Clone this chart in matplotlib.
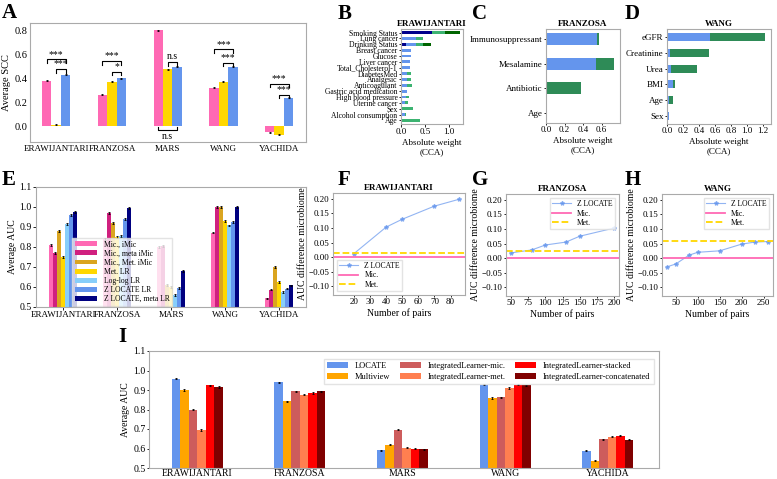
import numpy as np
import matplotlib.pyplot as plt

plt.rcParams['font.family'] = ['Liberation Serif', 'DejaVu Serif']
plt.rcParams['axes.edgecolor'] = '#aaaaaa'
plt.rcParams['axes.linewidth'] = 0.8
plt.rcParams['xtick.major.size'] = 2
plt.rcParams['ytick.major.size'] = 2
plt.rcParams['xtick.major.width'] = 0.6
plt.rcParams['ytick.major.width'] = 0.6

cohorts = ['ERAWIJANTARI', 'FRANZOSA', 'MARS', 'WANG', 'YACHIDA']

# panel A
scc_mic = [0.38, 0.265, 0.80, 0.32, -0.05]
scc_met = [0.015, 0.37, 0.475, 0.37, -0.07]
scc_locate = [0.43, 0.40, 0.495, 0.495, 0.24]

# panel B
b_vars = ['Smoking Status', 'Lung cancer', 'Drinking Status', 'Breast cancer', 'Glucose',
          'Liver cancer', 'Total_Cholesterol-1', 'DiabetesMed', 'Analgesic', 'Anticoagulant',
          'Gastric acid medication', 'High blood pressure', 'Uterine cancer', 'Sex',
          'Alcohol consumption', 'Age']
b_navy = [0.66, 0, 0.10, 0, 0, 0, 0, 0, 0, 0, 0, 0, 0, 0, 0, 0]
b_blue = [0, 0.32, 0.22, 0.20, 0.20, 0.18, 0.18, 0.13, 0.13, 0.12, 0.12, 0.10, 0.08, 0.03, 0.08, 0.02]
b_green = [0.27, 0.15, 0.15, 0, 0, 0, 0, 0.09, 0.09, 0.11, 0, 0.07, 0.07, 0.22, 0.02, 0.38]
b_dkgreen = [0.30, 0, 0.16, 0, 0, 0, 0, 0, 0, 0, 0, 0, 0, 0, 0, 0]

# panel C
c_vars = ['Immunosuppressant', 'Mesalamine', 'Antibiotic', 'Age']
c_mic = [0.55, 0.54, 0.0, 0.0]
c_met = [0.02, 0.20, 0.38, 0.0]

# panel D
d_vars = ['eGFR', 'Creatinine', 'Urea', 'BMI', 'Age', 'Sex']
d_mic = [0.54, 0.04, 0.05, 0.07, 0.02, 0.025]
d_met = [0.69, 0.49, 0.32, 0.03, 0.06, 0.0]

# panel E
e_labels = ['Mic., iMic', 'Mic., meta iMic', 'Mic., Met. iMic', 'Met. LR',
            'Log-log LR', 'Z LOCATE LR', 'Z LOCATE, meta LR']
e_colors = ['#ff69b4', '#d0207f', '#daa520', '#ffd700', '#87cefa', '#6495ed', '#000080']
e_auc = [
    [0.81, 0.84, 0.80, 0.872, 0.543],
    [0.77, 0.97, 0.805, 1.0, 0.587],
    [0.88, 0.92, 0.61, 1.0, 0.70],
    [0.75, 0.85, 0.60, 0.93, 0.625],
    [0.915, 0.855, 0.56, 0.908, 0.575],
    [0.96, 0.94, 0.595, 0.925, 0.592],
    [0.975, 0.995, 0.68, 1.0, 0.608],
]

# panels F, G, H
f_pairs = [20, 40, 50, 70, 85]
f_diff = [0.012, 0.103, 0.13, 0.175, 0.198]
f_met = 0.013
g_pairs = [50, 80, 100, 130, 150, 200]
g_diff = [0.018, 0.028, 0.045, 0.055, 0.075, 0.103]
g_met = 0.025
h_pairs = [30, 50, 80, 100, 150, 200, 230, 260]
h_diff = [-0.03, -0.02, 0.01, 0.02, 0.025, 0.048, 0.055, 0.057]
h_met = 0.06

# panel I
i_labels = ['LOCATE', 'Multiview', 'IntegratedLearner-mic.', 'IntegratedLearner-met.',
            'IntegratedLearner-stacked', 'IntegratedLearner-concatenated']
i_colors = ['#6495ed', '#ffa500', '#cd5c5c', '#ff7f50', '#ff0000', '#800000']
i_auc = [
    [0.958, 0.94, 0.59, 0.927, 0.589],
    [0.90, 0.842, 0.62, 0.859, 0.538],
    [0.80, 0.893, 0.697, 0.862, 0.647],
    [0.695, 0.876, 0.604, 0.91, 0.66],
    [0.925, 0.885, 0.60, 0.927, 0.666],
    [0.915, 0.893, 0.597, 0.924, 0.645],
]

W, H = 777, 479
fig = plt.figure(figsize=(W / 100, H / 100), dpi=100)


def add_ax(x0, y0, x1, y1):
    return fig.add_axes([x0 / W, 1 - y1 / H, (x1 - x0) / W, (y1 - y0) / H])


def panel_label(x, y, s):
    fig.text(x / W, 1 - y / H, s, fontsize=15, fontweight='bold', va='center', ha='left')


x = np.arange(len(cohorts))

# ---- A
ax = add_ax(30, 23, 306, 142)
w = 0.17
for k, (vals, col) in enumerate(zip([scc_mic, scc_met, scc_locate], ['#ff69b4', '#ffd700', '#6495ed'])):
    ax.bar(x + (k - 1) * w, vals, w, color=col, yerr=0.004, capsize=1,
           error_kw=dict(elinewidth=0.6, capthick=0.6))
ax.set_ylim(-0.13, 0.86)
ax.set_yticks([0.0, 0.2, 0.4, 0.6, 0.8])
ax.set_xlim(-0.47, 4.48)
ax.set_xticks(x)
ax.set_xticklabels(cohorts, fontsize=6.5)
ax.tick_params(axis='y', labelsize=7.5, length=0, pad=2)
ax.tick_params(axis='x', length=0, pad=2)
ax.set_ylabel('Average SCC', fontsize=7.5)
ax.yaxis.set_label_coords(-0.07, 0.5)


def bracket(ax, x0, x1, y, txt, down=True, h=0.03):
    d = -h if down else h
    ax.plot([x0, x0, x1, x1], [y + d, y, y, y + d], color='k', lw=0.8)
    ty = y + 0.005 if down else y - 0.015
    ax.text((x0 + x1) / 2, ty, txt, ha='center', va='bottom' if down else 'top', fontsize=7)


brk = [(0, 0.558, 0.476, '***', '***'), (1, 0.544, 0.455, '***', '*'),
       (3, 0.64, 0.53, '***', '***'), (4, 0.354, 0.264, '***', '***')]
for c, y1, y2, t1, t2 in brk:
    bracket(ax, c - w, c + w, y1, t1)
    bracket(ax, c, c + w, y2, t2)
bracket(ax, 2, 2 + w, 0.536, 'n.s')
bracket(ax, 2 - w, 2 + w, -0.033, 'n.s', down=False)

# ---- B
ax = add_ax(401, 29, 463, 124)
yb = np.arange(len(b_vars))[::-1]
left = np.zeros(len(b_vars))
for vals, col in zip([b_navy, b_blue, b_green, b_dkgreen], ['#00008b', '#6495ed', '#3cb371', '#006400']):
    ax.barh(yb, vals, 0.5, left=left, color=col)
    left += np.array(vals)
ax.set_yticks(yb)
ax.set_yticklabels(b_vars, fontsize=5.5)
ax.tick_params(axis='y', pad=1, length=1.5)
ax.set_ylim(-0.6, len(b_vars) - 0.4)
ax.set_xlim(0, 1.3)
ax.set_xticks([0.0, 0.5, 1.0])
ax.tick_params(axis='x', labelsize=6.5, pad=1)
ax.set_xlabel('Absolute weight\n(CCA)', fontsize=6.5, labelpad=2)
ax.set_title('ERAWIJANTARI', fontsize=6.5, fontweight='bold', pad=2)

# ---- C
ax = add_ax(546, 29, 620, 123)
yc = np.arange(len(c_vars))[::-1]
ax.barh(yc, c_mic, 0.5, color='#6495ed')
ax.barh(yc, c_met, 0.5, left=c_mic, color='#2e8b57')
ax.set_yticks(yc)
ax.set_yticklabels(c_vars, fontsize=6.5)
ax.set_xlim(0, 0.8)
ax.set_xticks([0.0, 0.2, 0.4, 0.6])
ax.tick_params(labelsize=6.5, pad=1, length=1.5)
ax.set_xlabel('Absolute weight\n(CCA)', fontsize=6.5, labelpad=2)
ax.set_title('FRANZOSA', fontsize=6.5, fontweight='bold', pad=2)

# ---- D
ax = add_ax(667, 29, 771, 124)
yd = np.arange(len(d_vars))[::-1]
ax.barh(yd, d_mic, 0.5, color='#6495ed')
ax.barh(yd, d_met, 0.5, left=d_mic, color='#2e8b57')
ax.set_yticks(yd)
ax.set_yticklabels(d_vars, fontsize=6.5)
ax.set_xlim(0, 1.3)
ax.set_xticks([0.0, 0.2, 0.4, 0.6, 0.8, 1.0, 1.2])
ax.tick_params(labelsize=6.5, pad=1, length=1.5)
ax.set_xlabel('Absolute weight\n(CCA)', fontsize=6.5, labelpad=2)
ax.set_title('WANG', fontsize=6.5, fontweight='bold', pad=2)

# ---- E
ax = add_ax(36, 187, 306, 307)
we = 0.075
for k in range(len(e_labels)):
    ax.bar(x + (k - 3) * we, e_auc[k], we, color=e_colors[k], label=e_labels[k],
           yerr=0.004, capsize=1, error_kw=dict(elinewidth=0.6, capthick=0.6))
ax.set_ylim(0.5, 1.1)
ax.set_yticks([0.5, 0.6, 0.7, 0.8, 0.9, 1.0, 1.1])
ax.set_xlim(-0.5, 4.5)
ax.set_xticks(x)
ax.set_xticklabels(cohorts, fontsize=6.5)
ax.tick_params(labelsize=6.5, pad=1)
ax.tick_params(axis='y', labelsize=7)
ax.set_ylabel('Average AUC', fontsize=7, labelpad=2)
ax.legend(loc='lower left', bbox_to_anchor=(0.12, -0.02), fontsize=5.5, frameon=True,
          framealpha=0.8, edgecolor='#dddddd', handlelength=3, handleheight=0.6,
          labelspacing=0.15, borderpad=0.3, fancybox=False)


# ---- F G H
def diff_panel(box, pairs, diff, met, xlim, xticks, title, legloc):
    ax = add_ax(*box)
    ax.plot(pairs, diff, color='#6495ed', marker='*', ms=3, lw=0.8, alpha=0.7, label='Z LOCATE')
    ax.axhline(0, color='#ff69b4', lw=1.3, label='Mic.')
    ax.axhline(met, color='#ffd700', lw=1.3, ls='--', label='Met.')
    ax.set_xlim(*xlim)
    ax.set_xticks(xticks)
    ax.set_ylim(-0.13, 0.22)
    ax.set_yticks([-0.10, -0.05, 0.0, 0.05, 0.10, 0.15, 0.20])
    ax.tick_params(labelsize=6.5, pad=1, length=1.5)
    ax.set_xlabel('Number of pairs', fontsize=7, labelpad=1)
    ax.set_ylabel('AUC difference microbiome', fontsize=7, labelpad=1)
    ax.set_title(title, fontsize=6.5, fontweight='bold', pad=2)
    ax.legend(loc=legloc, fontsize=5.5, handlelength=2.5, labelspacing=0.2,
              borderpad=0.3, edgecolor='#dddddd', fancybox=False)


diff_panel((333, 193, 465, 295), f_pairs, f_diff, f_met, (7, 89), [20, 30, 40, 50, 60, 70, 80],
           'ERAWIJANTARI', 'lower left')
diff_panel((506, 194, 619, 296), g_pairs, g_diff, g_met, (42.5, 207.5),
           [50, 75, 100, 125, 150, 175, 200], 'FRANZOSA', 'upper right')
diff_panel((662, 194, 773, 296), h_pairs, h_diff, h_met, (18.5, 271.5), [50, 100, 150, 200, 250],
           'WANG', 'upper right')

# ---- I
ax = add_ax(149, 351, 659, 468)
wi = 0.083
for k in range(len(i_labels)):
    ax.bar(x + (k - 2.5) * wi, i_auc[k], wi, color=i_colors[k], label=i_labels[k],
           yerr=0.003, capsize=1, error_kw=dict(elinewidth=0.6, capthick=0.6))
ax.set_ylim(0.5, 1.1)
ax.set_yticks([0.5, 0.6, 0.7, 0.8, 0.9, 1.0, 1.1])
ax.set_xlim(-0.47, 4.5)
ax.set_xticks(x)
ax.set_xticklabels(cohorts, fontsize=7.5)
ax.tick_params(labelsize=7, pad=1, length=1.5)
ax.tick_params(axis='x', length=0)
ax.set_ylabel('Average AUC', fontsize=7, labelpad=2)
ax.legend(loc='upper right', ncol=3, fontsize=6, handlelength=2.5, columnspacing=1.2,
          labelspacing=0.3, borderpad=0.4, edgecolor='#dddddd', fancybox=False,
          bbox_to_anchor=(0.998, 0.97))

panel_label(2, 13, 'A')
panel_label(338, 14, 'B')
panel_label(472, 14, 'C')
panel_label(625, 14, 'D')
panel_label(2, 180, 'E')
panel_label(338, 180, 'F')
panel_label(472, 180, 'G')
panel_label(625, 180, 'H')
panel_label(118, 337, 'I')

fig.savefig('out.png', dpi=100)
